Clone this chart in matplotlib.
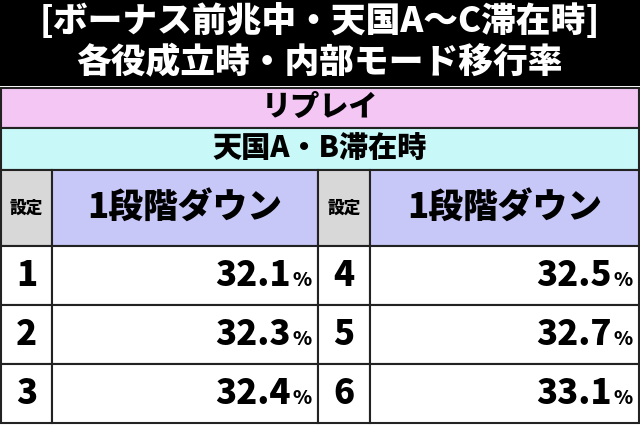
import matplotlib
matplotlib.use("Agg")
import matplotlib.pyplot as plt
from matplotlib.patches import Rectangle

plt.rcParams['font.family'] = ['Noto Sans CJK JP', 'DejaVu Sans']

title_lines = ["[ボーナス前兆中・天国A～C滞在時]", "各役成立時・内部モード移行率"]
role = "リプレイ"
state = "天国A・B滞在時"
col_head = ["設定", "1段階ダウン"]
settings_left = ["1", "2", "3"]
values_left = [32.1, 32.3, 32.4]
settings_right = ["4", "5", "6"]
values_right = [32.5, 32.7, 33.1]

W, H = 640, 425
fig = plt.figure(figsize=(W / 100, H / 100), dpi=100)
ax = fig.add_axes([0, 0, 1, 1])
ax.set_xlim(0, W)
ax.set_ylim(H, 0)
ax.axis("off")
BOLD = "heavy"


def cell(x0, y0, x1, y1, fc):
    ax.add_patch(Rectangle((x0, y0), x1 - x0, y1 - y0, fc=fc, ec="#222222", lw=1.5))


# title band
ax.add_patch(Rectangle((0, 0), W, 86, fc="black", ec="none"))
ax.text(W / 2, 21, title_lines[0], color="white", fontsize=25, fontweight=BOLD, ha="center", va="center")
ax.text(W / 2, 63, title_lines[1], color="white", fontsize=25, fontweight=BOLD, ha="center", va="center")

cell(1, 88, W - 1, 128, "#f4c6f4")
ax.text(W / 2, 107, role, fontsize=21, fontweight=BOLD, ha="center", va="center")
cell(1, 128, W - 1, 170, "#c8f8f8")
ax.text(W / 2, 148, state, fontsize=21, fontweight=BOLD, ha="center", va="center")

cols = [(1, 52, 318), (318, 370, W - 1)]
for (xa, xb, xc) in cols:
    cell(xa, 170, xb, 246, "#d8d8d8")
    ax.text((xa + xb) / 2, 208, col_head[0], fontsize=12, fontweight=BOLD, ha="center", va="center")
    cell(xb, 170, xc, 246, "#c8c8f8")
    ax.text((xb + xc) / 2, 208, col_head[1], fontsize=25, fontweight=BOLD, ha="center", va="center")

row_y = [246, 305, 364, 423]
for (xa, xb, xc), sets, vals in zip(cols, [settings_left, settings_right], [values_left, values_right]):
    for i, (s, v) in enumerate(zip(sets, vals)):
        y0, y1 = row_y[i], row_y[i + 1]
        cell(xa, y0, xb, y1, "white")
        cell(xb, y0, xc, y1, "white")
        yc = (y0 + y1) / 2
        ax.text((xa + xb) / 2, yc, s, fontsize=25, fontweight=BOLD, ha="center", va="center")
        ax.text(xc - 27, yc, f"{v:.1f}", fontsize=25, fontweight=BOLD, ha="right", va="center")
        ax.text(xc - 6, yc + 5, "%", fontsize=14, fontweight=BOLD, ha="right", va="center")

fig.savefig("out.png", dpi=100)
